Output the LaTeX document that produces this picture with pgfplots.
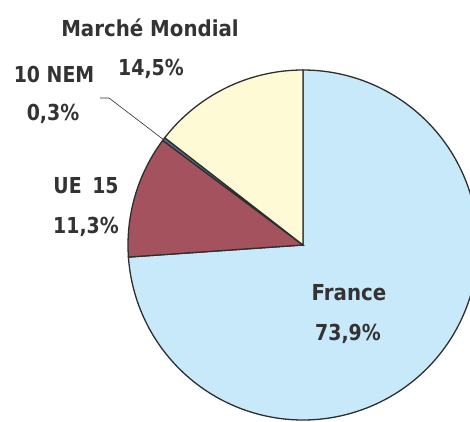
\documentclass[border=0pt]{standalone}
\usepackage{fontspec}
\setmainfont{DejaVu Sans}
\newfontfamily\boldlab{DejaVu Sans}[FakeStretch=0.86]
\newfontfamily\reglab{DejaVu Sans}[FakeStretch=0.9]
\usepackage{pgfplots}
\pgfplotsset{compat=1.18}
\definecolor{cFrance}{HTML}{C7E9F9}
\definecolor{cUE}{HTML}{A3525E}
\definecolor{cNEM}{HTML}{5A6E8C}
\definecolor{cMonde}{HTML}{FFFAD6}
\definecolor{txt}{HTML}{333333}
\definecolor{edge}{HTML}{2E2E2E}
% shares (percent)
\def\vFrance{73.9}
\def\vUE{11.3}
\def\vNEM{0.3}
\def\vMonde{14.5}
\def\cx{303}
\def\cy{176}
\def\R{175}
\pgfmathsetmacro{\aA}{90}
\pgfmathsetmacro{\aB}{\aA-3.6*\vFrance}
\pgfmathsetmacro{\aC}{\aB-3.6*\vUE}
\pgfmathsetmacro{\aD}{\aC-3.6*\vNEM}
\pgfmathsetmacro{\aE}{\aD-3.6*\vMonde}
\tikzset{lbl/.style={text=txt, font=\fontsize{22}{26}\selectfont\boldlab\bfseries, inner sep=0pt},
         cat/.style={text=txt, font=\fontsize{22}{26}\selectfont\reglab\bfseries, inner sep=0pt}}
\begin{document}
\begin{tikzpicture}
\begin{axis}[
  x=1pt, y=1pt,
  xmin=0, xmax=470, ymin=0, ymax=421,
  hide axis, clip=true,
]
\addplot[fill=cFrance, draw=edge, line width=1.3pt, domain=\aB:\aA, samples=200]
  ({\cx+\R*cos(x)},{\cy+\R*sin(x)}) -- (axis cs:\cx,\cy) -- cycle;
\addplot[fill=cUE, draw=edge, line width=1.3pt, domain=\aC:\aB, samples=60]
  ({\cx+\R*cos(x)},{\cy+\R*sin(x)}) -- (axis cs:\cx,\cy) -- cycle;
\addplot[fill=cNEM, draw=edge, line width=1.3pt, domain=\aD:\aC, samples=5]
  ({\cx+\R*cos(x)},{\cy+\R*sin(x)}) -- (axis cs:\cx,\cy) -- cycle;
\addplot[fill=cMonde, draw=edge, line width=1.3pt, domain=\aE:\aD, samples=60]
  ({\cx+\R*cos(x)},{\cy+\R*sin(x)}) -- (axis cs:\cx,\cy) -- cycle;
\addplot[edge, line width=0.6pt] coordinates {(100,323) (109,323) (164,281)};
\node[cat] at (axis cs:150,393) {Marché Mondial};
\node[lbl] at (axis cs:151,352) {14,5\%};
\node[lbl] at (axis cs:54,347) {10 NEM};
\node[lbl] at (axis cs:53,307) {0,3\%};
\node[lbl] at (axis cs:86,235) {UE\hspace{4pt} 15};
\node[lbl] at (axis cs:86,194) {11,3\%};
\node[cat] at (axis cs:349,128) {France};
\node[lbl] at (axis cs:348,87) {73,9\%};
\end{axis}
\pgfresetboundingbox
\path[use as bounding box] (0,0) rectangle (470pt,421pt);
\end{tikzpicture}
\end{document}
